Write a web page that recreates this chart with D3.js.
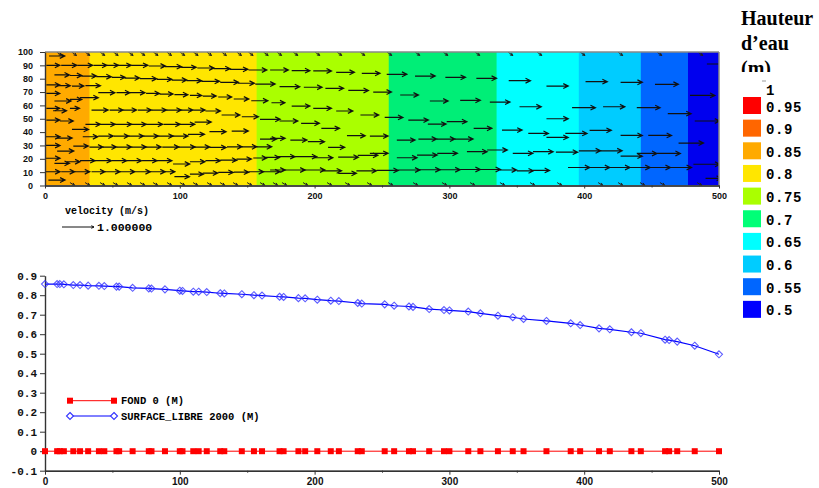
<!DOCTYPE html>
<html>
<head>
<meta charset="utf-8">
<script src="https://cdn.jsdelivr.net/npm/d3@7"></script>
<style>
  body { margin: 0; background: #fff; }
  svg { display: block; }
  .axis path, .axis line { stroke: #333; }
</style>
</head>
<body>
<svg id="chart" width="819" height="488"></svg>
<script>

// water depth classes (legend)
var legendLabels = ["1", "0.95", "0.9", "0.85", "0.8", "0.75", "0.7", "0.65", "0.6", "0.55", "0.5"];
var legendColors = ["#ff0000", "#ff6600", "#ffaa00", "#ffe600", "#aaff00", "#00ff77", "#00ffff", "#00ccff", "#0066ff", "#0000ff"];
var legendTitle = ["Hauteur", "d\u2019eau", "(m)"];

// depth bands along the channel (x in m)
var bandEdges = [0, 33, 157, 255, 335, 396, 442, 477, 500];
var bandColors = ["#ffaa00", "#ffe600", "#aaff00", "#00ee77", "#00ffff", "#00ccff", "#0066ff", "#0000ee"];

// velocity vectors [x, y, u, v] (m, m, m/s, m/s)
var vectorsWest = [
  [3,97,.49,0],
  [1,90,.42,0],[12,90,.49,0],[24,90,.48,0],[36,90,.42,0],[46,90,.36,0],[54,90,.42,0],[64,90,.52,0],[77,89.5,.52,0],[89,89,.52,0],[101,88.5,.47,0],[113,88,.52,0],[125,87.5,.52,0],[137,87,.57,0],[151,86.5,.57,0],
  [7,82.8,.47,0],[18.5,82.4,.37,0],[27,82,.47,0],[38,81.5,.47,0],[49.5,81,.42,0],[59,80.5,.47,0],[70.5,80,.52,0],[83,79.5,.47,0],[94,79,.47,0],[105,78.5,.47,0],[116,78,.57,0],[130,77.3,.57,0],[143,76.6,.52,0],[156,76,.62,0],
  [1,75.3,.42,0],[10,74.8,.37,0],[20,74.5,.37,0],[30,74.8,.47,0],
  [1,69,.42,0],[39.5,69.5,.52,0],[53,69.5,.42,0],[63,69.5,.47,0],[75,69,.42,0],[85,68.5,.42,0],[96,68,.42,0],[107.5,67.5,.37,0],[117,67,.42,0],[128.5,66.3,.42,0],[140,64.8,.47,0],[153,63.5,.52,0],
  [7,63.3,.52,0],[18.5,64.5,.37,0],[26,65.8,.57,0],
  [1,57.8,.42,0],[6,56,.42,0],[18.5,57.8,.3,0],[34.5,56.5,.52,0],[48,56.5,.42,0],[58,56.5,.42,0],[69,56.5,.42,0],[79,56.5,.47,0],[90,56.5,.47,0],[101,56.5,.37,0],[110,56.5,.37,0],[119,55.8,.47,0],[131,52.8,.57,0],[146,51.5,.52,0],[159.5,49.6,.63,0],
  [1,49,.42,0],[11,48.3,.42,0],[30,45.8,.47,0],[41,45.8,.47,0],[52,45.8,.52,0],[64,45.8,.47,0],[75,45.8,.52,0],[88,45.8,.52,0],[100,45.8,.47,0],[111,47.5,.52,0],
  [20,42,.52,0],[122,40.3,.52,0],[138.5,40.8,.52,0],[159.5,34.8,.52,0],
  [0,36.5,.47,0],[9,35.5,.47,0],[28,36.5,.47,0],[39.5,37,.47,0],[51,37,.47,0],[62,37,.47,0],[73,37,.47,0],[84,37,.47,0],[95,37,.47,0],[106,38.3,.52,0],
  [0,30,.47,0],[9,25.8,.52,0],[21,29.5,.47,0],[33,28.8,.42,0],[43,28.8,.42,0],[53,28.8,.47,0],[64,28.8,.47,0],[75,28.8,.47,0],[87,28.8,.52,0],[99,28.8,.52,0],[111,28.8,.47,0],[122,28.5,.52,0],[135,29,.47,0],[146,29,.47,0],[157,29,.47,0],
  [0,20.4,.47,0],[7,16.6,.47,0],[16,17.8,.42,0],[26,18.6,.47,0],[37,18.6,.52,0],[49.5,18.6,.47,0],[60.5,18.6,.47,0],[72,18.6,.47,0],[83,18.6,.47,0],[95,16.1,.52,0],[107.5,17.8,.47,0],[119,18.6,.47,0],[130,19,.52,0],[142,19.8,.47,0],[154.5,20.6,.42,0],[164,21,.42,0],
  [0,10.3,.47,0],[12,10.3,.42,0],[22,10.3,.47,0],[34.5,10.3,.42,0],[44.5,10.3,.47,0],[55.5,10.3,.47,0],[67,10.3,.47,0],[78,10.3,.47,0],[89,10.3,.31,0],[96,6.6,.47,0],[107.5,8.5,.42,0],[117,9.3,.47,0],[128.5,9.8,.47,0],[140,10,.47,0],[151,10.3,.47,0],[162,10.3,.52,0],[2.5,4.1,.52,0]
];
var vectorsCentre = [
  [167,86.5,.57,0],[183,86,.57,0],[199,85.8,.57,0],[216,84.8,.57,0],[235,84,.57,0],[253.5,83.3,.63,0],[274.5,82,.63,0],[297,81,.63,0],[320,80.3,.63,0],[344,78.5,.68,0],
  [174,74,.63,0],[192,73.6,.57,0],[208,72.8,.57,0],[225,71.2,.63,0],[243.5,70,.57,0],[263.5,67.8,.57,0],[285.5,63.3,.57,0],[308,63.8,.63,0],[330,62.5,.63,0],[352,59,.68,0],
  [168,62,.42,0],[183,59.5,.57,0],[199,57.8,.57,0],[216,55.8,.52,0],[234,52.8,.57,0],[252,51,.57,0],[269.5,49,.63,0],[284,46,.57,0],[298,47.8,.63,0],[318,42.8,.57,0],[339,41.5,.63,0],[358.5,39,.63,0],
  [174,48.3,.57,0],[190,46.6,.57,0],[205,42.8,.57,0],[224,37.3,.57,0],[241,37,.57,0],[261,34,.57,0],[277,34.8,.57,0],[290.5,34.8,.57,0],[304,34.8,.57,0],
  [167,35.3,.47,0],[182,34,.52,0],[195,32.8,.52,0],[210,28.6,.52,0],
  [241,24.1,.57,0],[261,20.8,.63,0],[276,22.8,.63,0],[291,24.1,.63,0],[313,25.3,.63,0],[328,26.6,.63,0],[347,24.1,.63,0],[362,25.3,.63,0],
  [172,21.6,.57,0],[185.5,21.6,.68,0],[200,20.8,.57,0],[217.5,21.2,.63,0],[232,22.6,.63,0],
  [167,11.6,.47,0],[178,11.6,.63,0],[191.5,11.6,.68,0],[206.5,11,.57,0],[217.5,9.1,.57,0],[231,11,.63,0],[246,11.3,.68,0],[262,11.6,.68,0],[277,11.8,.68,0],[293,11.8,.63,0],[308,12,.63,0],[323,12,.63,0],[337.5,11.6,.52,0],[350,11,.52,0],[362,11.3,.52,0]
];
var vectorsEast = [
  [372,74.5,.68,0],[401,77.8,.68,0],[427,77.3,.68,0],[452.5,75.8,.73,0],[491,91,.6,0],
  [391,58.3,.73,0],[414,59,.68,0],[439,58.3,.73,0],[462,53.8,.73,0],[478.5,67.5,.78,0],[482,48.3,.78,0],
  [372,36,.68,0],[386,39,.68,0],[404,41.3,.68,0],[427,37.5,.68,0],[447.5,37.5,.73,0],[470,31.8,.78,0],[372,50,.68,0],
  [379,25,.68,0],[396,26,.68,0],[412,26,.68,0],[427,22,.68,0],[439,24,.63,0],[454,24,.73,0],
  [388,13.5,.68,0],[404,13.5,.63,0],[419,13.5,.63,0],[434,13.5,.63,0],[449,13.5,.63,0],[463.5,13.5,.68,0],[481,15.9,.83,0],[490,5.4,.5,0]
];
// small vectors along the walls (y = 100 and y = 0)
var wallTopX = [8.7, 19.8, 29.7, 40.8, 50.7, 61.8, 70.5, 80.3, 90.3, 100.1, 110, 120, 131, 142.2, 150.8, 162, 172, 184, 200.3, 216.6, 233.7, 253.7, 274.5, 295.3, 319, 343.5, 365, 397, 425, 454, 484.4];
var wallBottomX = [18.5, 29.7, 40.8, 50.4, 60.8, 70.5, 80.1, 90.5, 100.1, 109.8, 120.2, 129.8, 139.5, 149.9, 159.5, 169.1, 175.8, 191.4, 209.2, 222.6, 238.9, 254.5, 273, 294.5, 315.3, 337.5, 359.8, 379.9, 410.3, 425.1, 441.4, 456.2, 483.7];

// longitudinal profile
var nodeX = [0, 9, 11, 14, 21, 26, 32, 40, 44, 53, 55, 65, 77, 79, 89, 100, 102, 110, 114, 120, 130, 133, 146, 155, 161, 174, 177, 188, 193, 202, 212, 218, 232, 235, 252, 259, 270, 273, 285, 296, 300, 314, 323, 336, 347, 355, 372, 390, 397, 411, 419, 435, 442, 460, 463, 469, 482, 500];
var surfaceLibre = [.857, .857, .857, .856, .852, .852, .849, .848, .847, .844, .844, .838, .835, .834, .830, .823, .822, .818, .818, .816, .810, .809, .805, .800, .798, .792, .791, .785, .784, .777, .772, .770, .760, .757, .753, .746, .742, .740, .729, .724, .722, .716, .707, .695, .687, .678, .668, .656, .647, .630, .625, .610, .605, .572, .570, .562, .541, .497];
var fond = [0, 0, 0, 0, 0, 0, 0, 0, 0, 0, 0, 0, 0, 0, 0, 0, 0, 0, 0, 0, 0, 0, 0, 0, 0, 0, 0, 0, 0, 0, 0, 0, 0, 0, 0, 0, 0, 0, 0, 0, 0, 0, 0, 0, 0, 0, 0, 0, 0, 0, 0, 0, 0, 0, 0, 0, 0, 0];
var seriesNames = ["FOND 0 (M)", "SURFACE_LIBRE 2000 (M)"];

var xTicks = [0, 100, 200, 300, 400, 500];
var xMinor = [50, 150, 250, 350, 450];

var svg = d3.select("#chart");

var x = d3.scaleLinear().domain([0, 500]).range([45, 719]);
var yTop = d3.scaleLinear().domain([0, 100]).range([185.5, 52]);
var yBot = d3.scaleLinear().domain([-0.1, 0.9]).range([470.7, 275.7]);
var arrowLen = d3.scaleLinear().domain([0, 1]).range([0, 32]);

// ---------- top plot: colour bands + vectors
svg.append("clipPath").attr("id", "plotClip")
  .append("rect")
  .attr("x", x(0)).attr("y", yTop(100))
  .attr("width", x(500) - x(0)).attr("height", yTop(0) - yTop(100));

var field = svg.append("g").attr("clip-path", "url(#plotClip)");

field.selectAll("rect.band")
  .data(bandColors)
  .enter()
  .append("rect")
  .attr("class", "band")
  .attr("x", function(d, i) { return x(bandEdges[i]); })
  .attr("y", yTop(100))
  .attr("width", function(d, i) { return x(bandEdges[i + 1]) - x(bandEdges[i]) + 0.5; })
  .attr("height", yTop(0) - yTop(100))
  .attr("fill", function(d) { return d; });

function arrowPath(x0, y0, u, v, head) {
  var dx = arrowLen(u), dy = -arrowLen(v);
  var x1 = x0 + dx, y1 = y0 + dy;
  var a = Math.atan2(dy, dx);
  var h = head || 5.5, s = 0.45;
  return "M" + x0 + "," + y0 + "L" + x1 + "," + y1 +
    "M" + (x1 - h * Math.cos(a - s)) + "," + (y1 - h * Math.sin(a - s)) +
    "L" + x1 + "," + y1 +
    "L" + (x1 - h * Math.cos(a + s)) + "," + (y1 - h * Math.sin(a + s));
}

var vectors = vectorsWest.concat(vectorsCentre, vectorsEast);

field.selectAll("path.vec")
  .data(vectors)
  .enter()
  .append("path")
  .attr("class", "vec")
  .attr("d", function(d) { return arrowPath(x(d[0]), yTop(d[1]), d[2], d[3]); })
  .attr("fill", "none")
  .attr("stroke", "#111")
  .attr("stroke-width", 1.2);

field.selectAll("path.wallTop")
  .data(wallTopX)
  .enter()
  .append("path")
  .attr("d", function(d) { return arrowPath(x(d), yTop(100), 0.15, -0.11, 3); })
  .attr("fill", "none")
  .attr("stroke", "#222");

field.selectAll("path.wallBot")
  .data(wallBottomX)
  .enter()
  .append("path")
  .attr("d", function(d) { return arrowPath(x(d), yTop(2.2), 0.15, -0.09, 3); })
  .attr("fill", "none")
  .attr("stroke", "#222");

// frame
svg.append("line")
  .attr("x1", x(0)).attr("x2", x(500)).attr("y1", yTop(100)).attr("y2", yTop(100))
  .attr("stroke", "#888").attr("stroke-width", 1.5);
svg.append("line")
  .attr("x1", x(500)).attr("x2", x(500)).attr("y1", yTop(100)).attr("y2", yTop(0))
  .attr("stroke", "#888").attr("stroke-width", 1.5);

var ayTop = svg.append("g").attr("class", "axis")
  .attr("transform", "translate(" + x(0) + ",0)")
  .call(d3.axisLeft(yTop).tickValues(d3.range(0, 101, 10)).tickSize(5).tickPadding(7).tickSizeOuter(0));
var axTop = svg.append("g").attr("class", "axis")
  .attr("transform", "translate(0," + yTop(0) + ")")
  .call(d3.axisBottom(x).tickValues(xTicks).tickSize(3).tickPadding(4).tickSizeOuter(0));
svg.append("g").attr("class", "axis")
  .attr("transform", "translate(0," + yTop(0) + ")")
  .call(d3.axisBottom(x).tickValues(xMinor).tickSize(2).tickFormat(""));

[ayTop, axTop].forEach(function(g) {
  g.selectAll("text")
    .attr("font-family", "Liberation Sans, Arial, sans-serif")
    .attr("font-weight", "bold")
    .attr("font-size", 9)
    .attr("fill", "#111");
  g.select(".domain").attr("stroke-width", 1.4);
});

// velocity reference
svg.append("text")
  .attr("x", 65).attr("y", 214)
  .attr("font-family", "Liberation Mono, monospace")
  .attr("font-weight", "bold").attr("font-size", 10)
  .text("velocity (m/s)");
svg.append("path")
  .attr("d", arrowPath(62, 227, 1, 0, 3))
  .attr("fill", "none").attr("stroke", "#111");
svg.append("text")
  .attr("x", 97).attr("y", 230.5)
  .attr("font-family", "Liberation Mono, monospace")
  .attr("font-weight", "bold").attr("font-size", 11.5)
  .text("1.000000");

// ---------- legend on the right
svg.append("clipPath").attr("id", "titleClip")
  .append("rect").attr("x", 730).attr("y", 0).attr("width", 89).attr("height", 72);

svg.append("g").attr("clip-path", "url(#titleClip)")
  .selectAll("text")
  .data(legendTitle)
  .enter()
  .append("text")
  .attr("x", 741)
  .attr("y", function(d, i) { return 25 + i * 25; })
  .attr("font-family", "Liberation Serif, Times New Roman, serif")
  .attr("font-weight", "bold")
  .attr("font-size", 20)
  .text(function(d) { return d; });

svg.append("line")
  .attr("x1", 762).attr("x2", 766).attr("y1", 81).attr("y2", 81)
  .attr("stroke", "#999");

var legendY = d3.scaleLinear().domain([0, 10]).range([97, 323.5]);

svg.selectAll("rect.swatch")
  .data(legendColors)
  .enter()
  .append("rect")
  .attr("class", "swatch")
  .attr("x", 743)
  .attr("y", function(d, i) { return legendY(i); })
  .attr("width", 18)
  .attr("height", 17)
  .attr("fill", function(d) { return d; });

svg.selectAll("text.lev")
  .data(legendLabels)
  .enter()
  .append("text")
  .attr("class", "lev")
  .attr("x", 766)
  .attr("y", function(d, i) { return i === 0 ? 95 : legendY(i - 1) + 14.5; })
  .attr("font-family", "Liberation Mono, monospace")
  .attr("font-weight", "bold")
  .attr("font-size", 14)
  .attr("letter-spacing", 0.6)
  .text(function(d) { return d; });

// ---------- bottom plot: profile
var ayBot = svg.append("g").attr("class", "axis")
  .attr("transform", "translate(" + x(0) + ",0)")
  .call(d3.axisLeft(yBot).tickValues(d3.range(-1, 10).map(function(i) { return i / 10; }))
    .tickSize(5).tickPadding(3).tickSizeOuter(0)
    .tickFormat(function(d) { return Math.abs(d) < 1e-9 ? "0" : d3.format(".1f")(d).replace("\u2212", "-"); }));
var axBot = svg.append("g").attr("class", "axis")
  .attr("transform", "translate(0," + yBot(-0.1) + ")")
  .call(d3.axisBottom(x).tickValues(xTicks).tickSize(4).tickPadding(3).tickSizeOuter(0));
svg.append("g").attr("class", "axis")
  .attr("transform", "translate(0," + yBot(-0.1) + ")")
  .call(d3.axisBottom(x).tickValues(xMinor).tickSize(2).tickFormat(""));

ayBot.selectAll("text")
  .attr("font-family", "Liberation Mono, monospace")
  .attr("font-weight", "bold").attr("font-size", 11).attr("fill", "#111");
axBot.selectAll("text")
  .attr("font-family", "Liberation Sans, Arial, sans-serif")
  .attr("font-weight", "bold").attr("font-size", 10).attr("fill", "#111");
[ayBot, axBot].forEach(function(g) { g.select(".domain").attr("stroke-width", 1.4); });

var line = d3.line()
  .x(function(d) { return x(d[0]); })
  .y(function(d) { return yBot(d[1]); });

var fondPts = nodeX.map(function(v, i) { return [v, fond[i]]; });
var surfPts = nodeX.map(function(v, i) { return [v, surfaceLibre[i]]; });

var diamond = "M0,-3.5L3.5,0L0,3.5L-3.5,0Z";

svg.append("path").datum(fondPts)
  .attr("d", line).attr("fill", "none").attr("stroke", "#ff0000").attr("stroke-width", 1);
svg.selectAll("rect.fond")
  .data(fondPts)
  .enter()
  .append("rect")
  .attr("class", "fond")
  .attr("x", function(d) { return x(d[0]) - 3; })
  .attr("y", function(d) { return yBot(d[1]) - 3; })
  .attr("width", 6).attr("height", 6)
  .attr("fill", "#ff0000");

svg.append("path").datum(surfPts)
  .attr("d", line).attr("fill", "none").attr("stroke", "#0000ff").attr("stroke-width", 1.2);
svg.selectAll("path.surf")
  .data(surfPts)
  .enter()
  .append("path")
  .attr("class", "surf")
  .attr("transform", function(d) { return "translate(" + x(d[0]) + "," + yBot(d[1]) + ")"; })
  .attr("d", diamond)
  .attr("fill", "none")
  .attr("stroke", "#3333ff")
  .attr("stroke-opacity", 0.8)
  .attr("stroke-width", 1.1);

// series legend
var keyY = [400.7, 416];
var keyColors = ["#ff0000", "#0000ff"];
var key = svg.selectAll("g.key")
  .data(seriesNames)
  .enter()
  .append("g")
  .attr("class", "key")
  .attr("transform", function(d, i) { return "translate(0," + keyY[i] + ")"; });

key.append("line")
  .attr("x1", 70).attr("x2", 114)
  .attr("stroke", function(d, i) { return keyColors[i]; });
key.each(function(d, i) {
  var g = d3.select(this);
  [70, 114].forEach(function(px) {
    if (i === 0) {
      g.append("rect").attr("x", px - 3).attr("y", -3).attr("width", 6).attr("height", 6).attr("fill", "#ff0000");
    } else {
      g.append("path").attr("transform", "translate(" + px + ",0)").attr("d", diamond)
        .attr("fill", "#fff").attr("stroke", "#3333ff").attr("stroke-width", 1.1);
    }
  });
});
key.append("text")
  .attr("x", 121).attr("y", 3.5)
  .attr("font-family", "Liberation Mono, monospace")
  .attr("font-weight", "bold")
  .attr("font-size", 10.5)
  .text(function(d) { return d; });

</script>
</body>
</html>
